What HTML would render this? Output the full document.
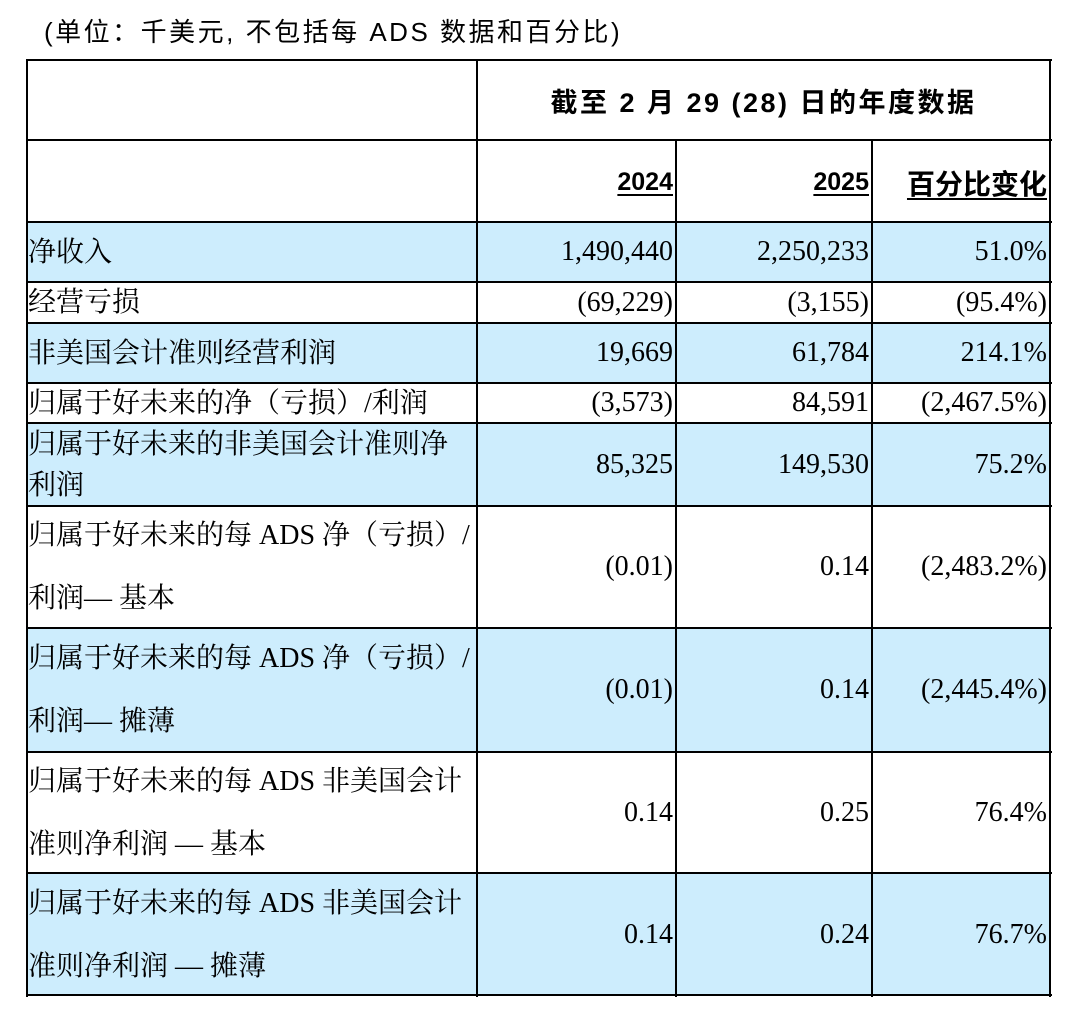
<!DOCTYPE html>
<html><head><meta charset="utf-8">
<style>
body{margin:0;width:1076px;height:1014px;background:#fff;position:relative;overflow:hidden;
font-family:"Liberation Serif","Noto Serif CJK SC",serif;color:#000}
.t{position:absolute;white-space:nowrap}
.c{position:absolute;box-sizing:border-box;display:flex;align-items:center}
.blue{background:#cdedfd}
.lab{font-size:28px;padding-left:1px;line-height:41px;white-space:nowrap}
.num{font-size:28px;justify-content:flex-end;padding-right:3px}
.hdr{font-family:"Liberation Sans","Noto Sans CJK SC",sans-serif;font-weight:bold;font-size:25px}
.h{position:absolute;background:#000;height:2px}
.v{position:absolute;background:#000;width:2px}
u{text-underline-offset:4px;text-decoration-thickness:2px}
</style></head><body>
<div class="t" style="left:44px;top:12px;font-size:26px;letter-spacing:2.5px;font-family:'Liberation Sans','Noto Sans CJK SC',sans-serif">(单位：千美元, 不包括每 ADS 数据和百分比)</div>
<div id="tbl"></div>
<script>
const rows=[
 {label:"净收入",v:["1,490,440","2,250,233","51.0%"],top:222,bot:282,blue:1,lh:41},
 {label:"经营亏损",v:["(69,229)","(3,155)","(95.4%)"],top:282,bot:323,blue:0,lh:41},
 {label:"非美国会计准则经营利润",v:["19,669","61,784","214.1%"],top:323,bot:383,blue:1,lh:41},
 {label:"归属于好未来的净（亏损）/利润",v:["(3,573)","84,591","(2,467.5%)"],top:383,bot:423,blue:0,lh:41},
 {label:"归属于好未来的非美国会计准则净<br>利润",v:["85,325","149,530","75.2%"],top:423,bot:506,blue:1,lh:41},
 {label:"归属于好未来的每 ADS 净（亏损）/<br>利润— 基本",v:["(0.01)","0.14","(2,483.2%)"],top:506,bot:628,blue:0,lh:63},
 {label:"归属于好未来的每 ADS 净（亏损）/<br>利润— 摊薄",v:["(0.01)","0.14","(2,445.4%)"],top:628,bot:752,blue:1,lh:63},
 {label:"归属于好未来的每 ADS 非美国会计<br>准则净利润 — 基本",v:["0.14","0.25","76.4%"],top:752,bot:873,blue:0,lh:63},
 {label:"归属于好未来的每 ADS 非美国会计<br>准则净利润 — 摊薄",v:["0.14","0.24","76.7%"],top:873,bot:996,blue:1,lh:63}
];
const xs=[27,477,676,872,1050];
const tbl=document.getElementById('tbl');
function add(cls,style,html){const d=document.createElement('div');d.className=cls;d.style.cssText=style;if(html)d.innerHTML=html;tbl.appendChild(d);return d;}
let d=add('c hdr','left:477px;top:60px;width:573px;height:81px;justify-content:center;font-size:27px;letter-spacing:2.5px;','截至 2 月 29 (28) 日的年度数据');


const yrs=["2024","2025","百分比变化"];
for(let i=0;i<3;i++){
 d=add('c hdr',`left:${xs[i+1]}px;top:141px;width:${xs[i+2]-xs[i+1]}px;height:81px;justify-content:flex-end;padding-right:3px;padding-top:2px;${i==2?'font-size:28px;':''}`,`<u>${yrs[i]}</u>`);
 
 
}
rows.forEach(r=>{
 const h=r.bot-r.top;
 d=add('c lab'+(r.blue?' blue':''),`left:27px;top:${r.top}px;width:450px;height:${h}px;line-height:${r.lh}px`,r.label);
 
 
 for(let i=0;i<3;i++){
  d=add('c num'+(r.blue?' blue':''),`left:${xs[i+1]}px;top:${r.top}px;width:${xs[i+2]-xs[i+1]}px;height:${h}px`,r.v[i]);
  
  
 }
 d=add('h',`left:27px;top:${r.top-1}px;width:1025px`);
 
 
});
[60,140,995].forEach(y=>{d=add('h',`left:27px;top:${y-1}px;width:1025px`);
 
 });
d=add('v','left:26px;top:59px;height:938px');


d=add('v','left:476px;top:59px;height:938px');


d=add('v','left:675px;top:140px;height:857px');


d=add('v','left:871px;top:140px;height:857px');


d=add('v','left:1049px;top:59px;height:938px');


</script>
</body></html>
